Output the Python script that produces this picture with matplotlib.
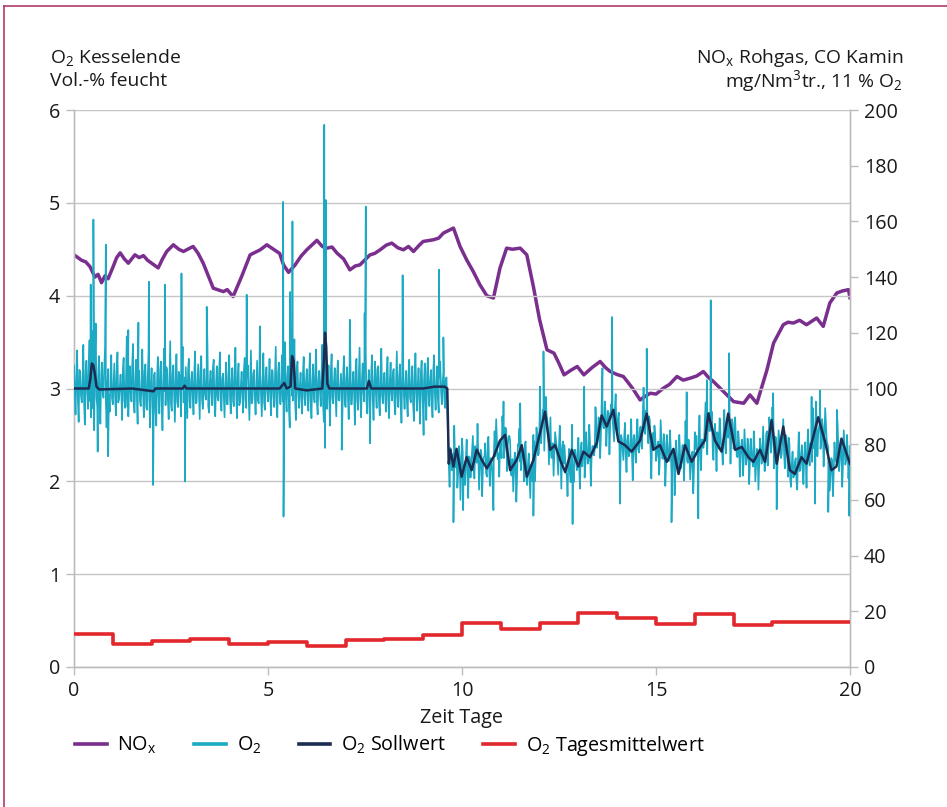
import numpy as np
import matplotlib
matplotlib.use("Agg")
import matplotlib.pyplot as plt
from matplotlib.lines import Line2D

plt.rcParams['font.family'] = ['Open Sans', 'DejaVu Sans']
plt.rcParams['mathtext.fontset'] = 'custom'
plt.rcParams['mathtext.rm'] = 'Open Sans'
plt.rcParams['mathtext.it'] = 'Open Sans:italic'
plt.rcParams['mathtext.default'] = 'regular'

# ---------------- data ----------------
# NOx raw gas (right axis, mg/Nm3)
nox_t = [0.0, 0.1, 0.2, 0.3, 0.41, 0.54, 0.62, 0.71, 0.8, 0.88, 1.01, 1.1, 1.19, 1.3, 1.4, 1.57, 1.68, 1.79, 1.9, 2.0, 2.17, 2.28, 2.39, 2.56,
         2.7, 2.82, 3.07, 3.2, 3.33, 3.59, 3.7, 3.85, 3.95, 4.1, 4.32, 4.54, 4.8, 4.97, 5.14, 5.3, 5.4, 5.53, 5.7, 5.85, 6.0,
         6.26, 6.4, 6.52, 6.65, 6.78, 6.95, 7.11, 7.25, 7.37, 7.63, 7.75, 7.89, 8.05, 8.19, 8.35, 8.49, 8.62, 8.75, 8.9, 9.0, 9.26, 9.4, 9.52, 9.78,
         9.95, 10.12, 10.29, 10.46, 10.64, 10.81, 10.98, 11.15, 11.3, 11.5, 11.67, 11.84, 12.0,
         12.19, 12.37, 12.5, 12.63, 12.8, 12.97, 13.14, 13.35, 13.56, 13.7, 13.82, 14.0, 14.16, 14.4, 14.59, 14.7, 14.85, 15.0, 15.19, 15.35, 15.54,
         15.7, 15.88, 16.05, 16.22, 16.35, 16.48, 16.74, 17.0, 17.26, 17.42, 17.6, 17.86, 18.03, 18.28, 18.4, 18.54, 18.7,
         18.88, 19.0, 19.14, 19.31, 19.48, 19.66, 19.8, 19.96, 20.0]
nox_v = [148, 147, 146, 145.5, 143.8, 140, 141, 138, 140.5, 139.4, 143.8, 147, 148.7, 146.5, 145, 148, 147, 147.7, 146, 145, 143.3, 146.5, 149.2, 151.6,
         150, 149.2, 151, 148.5, 145, 136, 135.5, 134.8, 135.5, 133, 140.2, 148, 149.8, 151.6, 150, 148.5, 144.4, 141.7, 144.4, 147.5, 149.8,
         153.2, 151, 150.4, 150.8, 148.6, 146.5, 142.6, 144, 144.4, 148, 148.5, 149.8, 151.5, 152.2, 150.5, 149.8, 151, 149.2, 151.5, 152.8, 153.4, 154, 155.8, 157.6,
         151, 146.2, 142, 137.3, 133.3, 132.5, 143.3, 150.4, 150, 150.4, 148, 136.6, 124.7,
         113.9, 112.7, 109, 104.9, 106.5, 107.9, 104.9, 107.5, 109.7, 107.5, 106.1, 105, 104.3, 100, 95.9, 97, 98.3, 98, 100.1, 101.5, 104.3,
         103, 103.7, 104.5, 106.1, 104, 102.5, 98.9, 95.3, 94.7, 97.7, 94.7, 106.7, 116.3, 122.9, 123.8, 123.5, 124.5,
         122.9, 124, 125.3, 122.3, 130.7, 134.3, 135, 135.5, 132.6]

# O2 measured (left axis, Vol.-%), samples every 0.04 day starting at day 0
o2_step = 0.04
o2_vals = [
    3.25, 2.72, 3.41, 2.64, 3.18, 2.85, 3.47, 2.61, 3.30, 2.78, 3.52, 2.69, 3.62, 2.55, 3.70, 2.80, 3.35, 2.62, 3.28, 2.90, 3.44, 2.58, 3.21, 2.75, 3.36,
    2.83, 3.27, 2.71, 3.39, 2.88, 3.15, 2.66, 3.33, 2.79, 3.56, 2.70, 3.24, 2.86, 3.48, 2.74, 3.31, 2.62, 3.19, 2.81, 3.42, 2.69, 3.26, 2.77, 3.38, 2.58,
    3.22, 2.48, 3.17, 2.60, 3.34, 2.73, 3.29, 2.55, 3.43, 2.82, 3.20, 2.67, 3.51, 2.76, 3.25, 2.64, 3.37, 2.80, 3.14, 2.70, 3.45, 2.86, 3.23, 2.68, 3.32,
    2.79, 3.18, 2.72, 3.40, 2.85, 3.26, 2.67, 3.35, 2.78, 3.21, 2.88, 3.46, 2.74, 3.19, 2.82, 3.31, 2.70, 3.24, 2.87, 3.39, 2.76, 3.16, 2.69, 3.28, 2.83,
    3.36, 2.73, 3.22, 2.81, 3.44, 2.68, 3.27, 2.85, 3.18, 2.74, 3.33, 2.79, 3.25, 2.66, 3.41, 2.88, 3.20, 2.72, 3.30, 2.84, 3.15, 2.70, 3.38, 2.77, 3.23,
    2.86, 3.32, 2.71, 3.19, 2.80, 3.45, 2.69, 3.28, 2.83, 3.36, 2.62, 3.50, 2.75, 3.24, 2.58, 3.40, 2.87, 3.53, 2.66, 3.29, 2.79, 3.17, 2.73, 3.34, 2.82,
    3.21, 2.76, 3.38, 2.68, 3.26, 2.85, 3.42, 2.72, 3.19, 2.81, 3.47, 2.64, 3.33, 2.78, 3.25, 2.60, 3.37, 2.84, 3.22, 2.70, 3.30, 2.87, 3.16, 2.74, 3.35,
    2.80, 3.23, 2.67, 3.41, 2.83, 3.18, 2.61, 3.32, 2.77, 3.44, 2.69, 3.27, 2.86, 3.39, 2.73, 3.20, 2.82, 3.36, 2.66, 3.29, 2.79, 3.24, 2.71, 3.43, 2.84,
    3.17, 2.75, 3.34, 2.68, 3.28, 2.87, 3.21, 2.72, 3.40, 2.80, 3.26, 2.63, 3.35, 2.78, 3.19, 2.70, 3.31, 2.85, 3.24, 2.65, 3.38, 2.76, 3.22, 2.62, 3.30,
    2.72, 3.27, 2.66, 3.33, 2.81, 3.20, 2.69, 3.36, 2.77, 3.24, 2.74, 3.29, 2.83, 3.18, 2.79, 3.12,
    2.47, 1.94, 2.33, 2.13, 2.60, 2.15, 1.93, 2.38, 1.80, 2.46, 2.17, 1.96, 2.45, 1.82, 2.26,
    2.17, 2.49, 2.03, 2.23, 2.62, 1.91, 2.34, 1.84, 2.26, 2.41, 2.05, 2.48, 1.95, 2.24, 1.82,
    2.54, 2.67, 2.24, 2.05, 2.44, 2.70, 2.25, 2.58, 2.11, 2.48, 2.44, 2.06, 1.89, 2.31, 1.78,
    2.40, 2.57, 2.12, 2.35, 2.00, 2.43, 1.96, 2.30, 1.82, 2.07, 2.50, 2.00, 2.58, 2.28, 2.66,
    2.41, 2.77, 2.33, 2.91, 2.66, 2.18, 2.69, 2.25, 2.06, 2.53, 2.37, 2.07, 2.60, 1.92, 2.43,
    2.39, 2.09, 1.84, 2.35, 1.99, 2.61, 1.99, 2.34, 2.12, 2.47, 1.92, 2.42, 2.29, 2.04, 2.53,
    2.19, 2.61, 1.95, 2.38, 2.28, 2.80, 2.36, 2.69, 2.25, 2.88, 2.58, 2.86, 2.38, 2.76, 2.29,
    2.83, 2.68, 2.43, 2.94, 2.53, 2.74, 2.09, 2.46, 2.23, 2.63, 2.10, 2.50, 2.31, 2.67, 2.01,
    2.50, 2.20, 2.67, 2.31, 2.59, 2.35, 3.01, 2.51, 2.67, 2.41, 2.66, 2.03, 2.52, 2.60, 2.22,
    2.40, 2.07, 2.66, 2.25, 2.51, 1.95, 2.50, 2.22, 2.55, 2.07, 2.33, 1.85, 2.44, 2.19, 2.50,
    2.14, 2.39, 2.01, 2.65, 2.22, 2.45, 2.02, 2.29, 1.87, 2.53, 2.49, 2.25, 2.71, 2.12, 2.45,
    2.41, 2.85, 2.29, 2.74, 2.55, 2.75, 2.23, 2.62, 2.11, 2.47, 2.68, 2.35, 2.18, 2.77, 2.30,
    2.63, 2.83, 2.19, 2.67, 2.35, 2.69, 2.28, 2.54, 2.05, 2.40, 2.06, 2.56, 2.18, 2.46, 1.97,
    2.46, 2.22, 2.54, 2.00, 2.35, 1.91, 2.46, 2.19, 2.59, 2.11, 2.51, 2.17, 2.69, 2.31, 2.80,
    2.14, 2.48, 2.03, 2.55, 2.36, 2.29, 2.67, 2.14, 2.49, 2.05, 2.40, 1.94, 2.32, 2.06, 2.25,
    1.91, 2.53, 2.12, 2.39, 1.97, 2.42, 1.93, 2.56, 2.17, 2.37, 2.79, 2.35, 2.86, 2.27, 2.58,
    2.35, 2.67, 2.16, 2.79, 2.44, 2.36, 1.90, 2.25, 1.84, 2.42, 2.21, 2.62, 2.11, 2.44, 1.94,
    2.55, 2.18, 2.50, 2.03, 2.38,
]
# O2 intermediate samples, first part (start day 0.02, every 0.04 day)
o2_mid1_start = 0.02
o2_mid1 = [
    2.95, 3.12, 2.88, 3.20, 2.92, 3.05, 2.84, 3.18, 2.97, 3.26, 2.86, 3.10, 2.78, 3.30, 2.90, 3.08, 2.82, 3.15, 2.96, 3.22, 2.87, 3.04, 2.93, 3.14, 2.89,
    3.06, 2.91, 3.17, 2.85, 3.03, 2.94, 3.21, 2.87, 3.09, 2.80, 3.13, 2.96, 3.25, 2.83, 3.07, 2.92, 3.16, 2.86, 3.02, 2.95, 3.19, 2.81, 3.11, 2.89, 3.04,
    2.90, 3.14, 2.76, 3.08, 2.93, 3.20, 2.84, 3.05, 2.97, 3.23, 2.88, 3.10, 2.82, 3.16, 2.94, 3.07, 2.86, 3.18, 2.91, 3.03, 2.85, 3.12, 2.95, 3.21, 2.87,
    3.09, 2.92, 3.15, 2.84, 3.06, 2.96, 3.19, 2.88, 3.02, 2.93, 3.13, 2.81, 3.08, 2.97, 3.22, 2.86, 3.04, 2.91, 3.17, 2.89, 3.11, 2.94, 3.05, 2.83, 3.14,
    2.91, 3.07, 2.86, 3.18, 2.95, 3.10, 2.82, 3.04, 2.93, 3.21, 2.88, 3.12, 2.96, 3.06, 2.84, 3.16, 2.92, 3.03, 2.87, 3.19, 2.94, 3.09, 2.85, 3.13, 2.97,
    3.05, 2.89, 3.20, 2.93, 3.11, 2.83, 3.17, 2.95, 3.07, 2.86, 3.24, 2.90, 3.14, 2.80, 3.28, 2.92, 3.10, 2.84, 3.19, 2.96, 3.04, 2.88, 3.15, 2.91, 3.08,
    2.94, 3.13, 2.87, 3.06, 2.92, 3.22, 2.85, 3.09, 2.96, 3.17, 2.82, 3.11, 2.93, 3.04, 2.86, 3.20, 2.90, 3.07, 2.95, 3.14, 2.88, 3.02, 2.97, 3.18, 2.84,
    3.10, 2.91, 3.16, 2.83, 3.05, 2.94, 3.23, 2.87, 3.12, 2.90, 3.08, 2.96, 3.19, 2.85, 3.03, 2.92, 3.15, 2.88, 3.07, 2.95, 3.21, 2.86, 3.11, 2.93, 3.04,
    2.92, 3.14, 2.87, 3.09, 2.95, 3.18, 2.84, 3.06, 2.91, 3.12, 2.88, 3.20, 2.94, 3.03, 2.86, 3.16, 2.90, 3.08, 2.83, 3.13, 2.96, 3.05, 2.89, 3.17, 2.93,
    3.07, 2.88, 3.15, 2.92, 3.10, 2.86, 3.19, 2.95, 3.04, 2.90, 3.12, 2.97, 3.06, 2.93, 3.09,
]
# O2 intermediate samples, second part (start day 9.66, every 0.04 day)
o2_mid2_start = 9.66
o2_mid2 = [
    2.18, 2.36, 2.12, 2.30, 2.22, 2.28, 2.08, 2.26, 2.14, 2.31, 2.06, 2.24, 2.10, 2.27, 2.04,
    2.33, 2.16, 2.38, 2.20, 2.29, 2.12, 2.30, 2.15, 2.27, 2.09, 2.31, 2.13, 2.25, 2.10, 2.28,
    2.27, 2.46, 2.30, 2.42, 2.25, 2.52, 2.37, 2.55, 2.40, 2.49, 2.08, 2.24, 2.11, 2.22, 2.05,
    2.38, 2.21, 2.36, 2.24, 2.40, 2.02, 2.19, 2.05, 2.17, 2.00, 2.43, 2.27, 2.47, 2.30, 2.52,
    2.58, 2.76, 2.61, 2.72, 2.55, 2.44, 2.26, 2.41, 2.29, 2.45, 2.22, 2.39, 2.25, 2.36, 2.19,
    2.24, 2.07, 2.22, 2.09, 2.26, 2.17, 2.34, 2.20, 2.32, 2.15, 2.33, 2.16, 2.31, 2.19, 2.37,
    2.22, 2.40, 2.26, 2.38, 2.33, 2.63, 2.46, 2.66, 2.49, 2.70, 2.57, 2.75, 2.60, 2.73, 2.62,
    2.74, 2.56, 2.78, 2.59, 2.68, 2.31, 2.50, 2.34, 2.47, 2.29, 2.44, 2.27, 2.42, 2.30, 2.46,
    2.32, 2.49, 2.35, 2.52, 2.38, 2.73, 2.57, 2.76, 2.60, 2.70, 2.31, 2.48, 2.34, 2.50, 2.28,
    2.43, 2.26, 2.45, 2.24, 2.41, 2.20, 2.37, 2.22, 2.35, 2.17, 2.29, 2.11, 2.27, 2.09, 2.30,
    2.22, 2.39, 2.24, 2.41, 2.20, 2.34, 2.16, 2.32, 2.14, 2.35, 2.30, 2.47, 2.33, 2.45, 2.36,
    2.68, 2.51, 2.71, 2.54, 2.66, 2.37, 2.55, 2.40, 2.53, 2.35, 2.54, 2.36, 2.52, 2.39, 2.57,
    2.47, 2.64, 2.50, 2.62, 2.46, 2.44, 2.26, 2.42, 2.28, 2.45, 2.21, 2.38, 2.24, 2.40, 2.19,
    2.33, 2.16, 2.35, 2.18, 2.31, 2.20, 2.37, 2.23, 2.34, 2.19, 2.54, 2.37, 2.57, 2.40, 2.52,
    2.27, 2.44, 2.29, 2.46, 2.25, 2.48, 2.31, 2.50, 2.33, 2.47, 2.02, 2.19, 2.04, 2.21, 2.00,
    2.28, 2.11, 2.30, 2.13, 2.27, 2.22, 2.39, 2.25, 2.41, 2.21, 2.64, 2.47, 2.66, 2.50, 2.62,
    2.42, 2.59, 2.44, 2.61, 2.40, 2.24, 2.07, 2.22, 2.09, 2.26, 2.21, 2.38, 2.24, 2.40, 2.20,
    2.37, 2.22, 2.35, 2.25,
]
# single spikes of the O2 signal
spike_t = [0.43, 0.50, 0.61, 0.82, 0.88, 1.40, 1.66, 1.93, 2.04, 2.34, 2.77, 2.86, 3.42, 4.45,
           4.79, 5.39, 5.40, 5.57, 5.63, 6.45, 6.47, 6.49, 6.90, 7.11, 7.49, 7.52, 7.63, 8.47,
           9.01, 9.41, 9.52, 9.78, 10.03, 10.81, 11.07, 11.50, 11.84, 12.01, 12.10, 12.85, 13.15,
           13.62, 13.87, 14.07, 14.76, 15.40, 15.79, 16.09, 16.31, 16.41, 16.88, 18.02, 18.11,
           19.01, 19.10, 19.23, 19.44, 19.66, 19.98]
spike_v = [4.12, 4.82, 2.32, 4.55, 2.27, 3.63, 3.71, 4.15, 1.96, 4.12, 4.24, 2.00, 3.88, 4.01,
           3.67, 5.01, 1.62, 4.04, 4.80, 5.84, 2.36, 5.03, 2.34, 3.74, 3.81, 4.96, 2.41, 4.22,
           2.50, 4.28, 3.55, 1.56, 1.69, 1.69, 2.86, 2.84, 1.63, 3.02, 3.40, 1.54, 3.02,
           3.22, 3.77, 1.76, 3.43, 1.56, 2.96, 1.60, 3.09, 3.95, 3.38, 2.95, 1.70,
           2.91, 1.76, 2.98, 1.67, 2.77, 1.63]

# O2 set point (left axis)
sw_t = [0.0, 0.38, 0.42, 0.46, 0.50, 0.54, 0.58, 0.65, 1.5, 2.05, 2.1, 2.8, 2.85, 2.9, 5.3, 5.42,
        5.48, 5.58, 5.62, 5.66, 5.70, 6.0, 6.4, 6.44, 6.47, 6.50, 6.53, 6.58, 7.55, 7.60, 7.66,
        9.0, 9.3, 9.55, 9.62, 9.66, 9.70, 9.78, 9.86, 9.99, 10.12, 10.25, 10.38, 10.51, 10.64,
        10.81, 10.98, 11.11, 11.24, 11.41, 11.54, 11.67, 11.84, 12.01, 12.14, 12.27, 12.40,
        12.53, 12.66, 12.83, 13.0, 13.13, 13.30, 13.47, 13.60, 13.73, 13.90, 14.03, 14.20,
        14.37, 14.59, 14.76, 14.93, 15.10, 15.28, 15.45, 15.58, 15.75, 15.92, 16.09, 16.26,
        16.35, 16.52, 16.69, 16.86, 17.04, 17.21, 17.38, 17.51, 17.68, 17.81, 17.98, 18.11,
        18.28, 18.45, 18.58, 18.75, 18.88, 19.01, 19.18, 19.35, 19.52, 19.65, 19.78, 19.91, 20.0]
sw_v = [3.0, 3.0, 3.1, 3.27, 3.25, 3.15, 3.02, 2.99, 3.0, 2.97, 3.0, 3.0, 3.03, 3.0, 3.0, 3.06,
        3.0, 3.02, 3.35, 3.30, 3.0, 2.98, 3.0, 3.3, 3.6, 3.45, 3.05, 3.0, 3.0, 3.08, 3.0,
        3.0, 3.02, 3.02, 3.0, 2.19, 2.34, 2.16, 2.35, 2.05, 2.26, 2.12, 2.34, 2.23, 2.14,
        2.26, 2.44, 2.50, 2.12, 2.23, 2.39, 2.05, 2.23, 2.52, 2.75, 2.34, 2.39,
        2.23, 2.10, 2.34, 2.16, 2.32, 2.26, 2.41, 2.71, 2.59, 2.77, 2.43, 2.39,
        2.32, 2.44, 2.73, 2.34, 2.39, 2.21, 2.35, 2.08, 2.39, 2.21, 2.34, 2.44,
        2.73, 2.44, 2.32, 2.73, 2.34, 2.37, 2.26, 2.21, 2.34, 2.21, 2.66, 2.19,
        2.59, 2.12, 2.08, 2.26, 2.19, 2.41, 2.69, 2.44, 2.12, 2.16, 2.46, 2.30, 2.19]

# O2 daily mean (left axis), one value per day 0..19
day_start = list(range(20))
daily_mean = [0.36, 0.25, 0.28, 0.30, 0.25, 0.27, 0.23, 0.29, 0.30, 0.345,
              0.47, 0.41, 0.47, 0.58, 0.525, 0.46, 0.57, 0.455, 0.48, 0.485]

left_ticks = [0, 1, 2, 3, 4, 5, 6]
right_ticks = [0, 20, 40, 60, 80, 100, 120, 140, 160, 180, 200]
x_ticks = [0, 5, 10, 15, 20]

# ---------------- colours ----------------
C_NOX = '#7a2e8e'
C_O2 = '#1ba9c4'
C_SW = '#1b2d52'
C_RED = '#e2282c'
C_GRID = '#c6c6c6'
C_SPINE = '#bdbdbd'
C_FRAME = '#b3396c'
C_TXT = '#1a1a1a'
FS = 14.2

fig = plt.figure(figsize=(9.47, 8.07), dpi=100)
fig.patch.set_facecolor('white')

L, R, T, B = 74, 850, 110, 667
W, H = 947, 807
ax = fig.add_axes([L / W, 1 - B / H, (R - L) / W, (B - T) / H])
ax2 = ax.twinx()

# NOx on the right axis (drawn beneath)
ax2.plot(nox_t, nox_v, color=C_NOX, lw=2.5, solid_joinstyle='round', zorder=2)
ax2.set_ylim(0, 200)
ax2.set_yticks(right_ticks)

# O2 signal: regular samples, intermediate samples and spikes merged by time
t_main = np.arange(len(o2_vals)) * o2_step
t_mid1 = o2_mid1_start + np.arange(len(o2_mid1)) * o2_step
t_mid2 = o2_mid2_start + np.arange(len(o2_mid2)) * o2_step
all_t = np.concatenate([t_main, t_mid1, t_mid2, np.array(spike_t)])
all_v = np.concatenate([np.array(o2_vals), np.array(o2_mid1), np.array(o2_mid2), np.array(spike_v)])
order = np.argsort(all_t, kind='stable')
ax.plot(all_t[order], all_v[order], color=C_O2, lw=1.2, zorder=3)
ax.plot(sw_t, sw_v, color=C_SW, lw=1.8, zorder=4)
ax.step(day_start + [20], daily_mean + [daily_mean[-1]], where='post', color=C_RED, lw=2.6, zorder=4)

ax.set_zorder(ax2.get_zorder() + 1)
ax.patch.set_visible(False)
ax2.patch.set_facecolor('#fcfcfc')

ax.set_xlim(0, 20)
ax.set_ylim(0, 6)
ax.set_xticks(x_ticks)
ax.set_yticks(left_ticks)
ax.yaxis.grid(True, color=C_GRID, lw=1.0)
ax.set_axisbelow(True)

for a in (ax, ax2):
    for s in a.spines.values():
        s.set_color(C_SPINE)
        s.set_linewidth(1.0)
    a.spines['top'].set_visible(False)

ax.tick_params(axis='both', colors=C_SPINE, labelcolor=C_TXT, labelsize=FS, length=6, width=1, pad=4)
ax2.tick_params(axis='y', colors=C_SPINE, labelcolor=C_TXT, labelsize=FS, length=6, width=1, pad=4)
ax.set_xlabel('Zeit Tage', fontsize=FS, color=C_TXT, labelpad=5)

# axis titles
TFS = 13.9
fig.text(50 / W, 1 - 58 / H, 'O$_2$ Kesselende', fontsize=TFS, ha='left', va='center', color=C_TXT)
fig.text(50 / W, 1 - 81 / H, 'Vol.-% feucht', fontsize=TFS, ha='left', va='center', color=C_TXT)
fig.text(903 / W, 1 - 58 / H, 'NO$_x$ Rohgas, CO Kamin', fontsize=TFS, ha='right', va='center', color=C_TXT)
fig.text(903 / W, 1 - 81 / H, 'mg/Nm$^3$tr., 11 % O$_2$', fontsize=TFS, ha='right', va='center', color=C_TXT)

handles = [Line2D([], [], color=C_NOX, lw=2.6),
           Line2D([], [], color=C_O2, lw=2.6),
           Line2D([], [], color=C_SW, lw=2.6),
           Line2D([], [], color=C_RED, lw=2.6)]
labels = ['NO$_x$', 'O$_2$', 'O$_2$ Sollwert', 'O$_2$ Tagesmittelwert']
fig.legend(handles, labels, loc='center left', bbox_to_anchor=(75 / W, 1 - 746 / H),
           ncol=4, frameon=False, fontsize=FS, handlelength=1.6, handletextpad=0.55,
           columnspacing=1.9, borderpad=0, borderaxespad=0)

# page frame
fig.add_artist(Line2D([4 / W, 1.0], [1 - 6 / H, 1 - 6 / H], color=C_FRAME, lw=1.2, transform=fig.transFigure))
fig.add_artist(Line2D([4 / W, 4 / W], [0, 1 - 6 / H], color=C_FRAME, lw=1.2, transform=fig.transFigure))

fig.savefig('out.png', dpi=100, facecolor='white')
